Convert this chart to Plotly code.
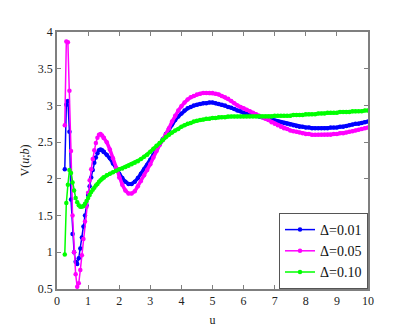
import plotly.graph_objects as go

# abscisas: paso 0.05 al principio, luego 0.1
u_early = [0.25, 0.30, 0.35, 0.40, 0.45, 0.50, 0.55, 0.60, 0.65, 0.70, 0.75, 0.80, 0.85,
           0.90, 0.95, 1.00, 1.05, 1.10, 1.15, 1.20, 1.25, 1.30, 1.35, 1.40, 1.45, 1.50]
u_late = [1.6, 1.7, 1.8, 1.9, 2.0, 2.1, 2.2, 2.3, 2.4, 2.5, 2.6, 2.7, 2.8, 2.9, 3.0,
          3.1, 3.2, 3.3, 3.4, 3.5, 3.6, 3.7, 3.8, 3.9, 4.0, 4.1, 4.2, 4.3, 4.4, 4.5,
          4.6, 4.7, 4.8, 4.9, 5.0, 5.1, 5.2, 5.3, 5.4, 5.5, 5.6, 5.7, 5.8, 5.9, 6.0,
          6.1, 6.2, 6.3, 6.4, 6.5, 6.6, 6.7, 6.8, 6.9, 7.0, 7.1, 7.2, 7.3, 7.4, 7.5,
          7.6, 7.7, 7.8, 7.9, 8.0, 8.1, 8.2, 8.3, 8.4, 8.5, 8.6, 8.7, 8.8, 8.9, 9.0,
          9.1, 9.2, 9.3, 9.4, 9.5, 9.6, 9.7, 9.8, 9.9, 10.0]
u = u_early + u_late

# Delta = 0.01
v_001 = [2.13, 3.01, 3.06, 2.64, 1.72, 1.25, 1.00, 0.87, 0.84, 0.92, 1.05, 1.20, 1.35,
         1.50, 1.64, 1.78, 1.90, 2.02, 2.12, 2.22, 2.29, 2.35, 2.39, 2.40, 2.39, 2.37,
         2.33, 2.28, 2.21, 2.14, 2.07, 2.01, 1.96, 1.93, 1.93, 1.96, 2.01, 2.07, 2.13, 2.19, 2.26,
         2.33, 2.40, 2.47, 2.54, 2.61, 2.68, 2.74, 2.80, 2.85, 2.89, 2.93, 2.96, 2.98, 3.00, 3.01,
         3.02, 3.03, 3.03, 3.04, 3.04, 3.03, 3.02, 3.01, 3.00, 2.98, 2.97, 2.95, 2.93, 2.92, 2.90,
         2.89, 2.88, 2.87, 2.86, 2.85, 2.84, 2.83, 2.81, 2.80, 2.79, 2.78, 2.77, 2.76, 2.75, 2.74,
         2.73, 2.72, 2.71, 2.71, 2.70, 2.70, 2.69, 2.69, 2.69, 2.69, 2.69, 2.69, 2.70, 2.70, 2.70,
         2.71, 2.71, 2.72, 2.73, 2.74, 2.75, 2.75, 2.76, 2.77, 2.78]

# Delta = 0.05
v_005 = [2.73, 3.87, 3.86, 3.20, 2.38, 1.50, 1.00, 0.70, 0.53, 0.58, 0.76, 0.96, 1.18,
         1.42, 1.62, 1.81, 1.98, 2.13, 2.27, 2.39, 2.49, 2.56, 2.60, 2.61, 2.59, 2.56,
         2.50, 2.40, 2.28, 2.15, 2.02, 1.92, 1.84, 1.80, 1.80, 1.83, 1.90, 1.97, 2.05, 2.12, 2.20,
         2.29, 2.38, 2.46, 2.53, 2.60, 2.69, 2.78, 2.86, 2.93, 2.99, 3.04, 3.08, 3.11, 3.13, 3.15,
         3.16, 3.17, 3.17, 3.17, 3.17, 3.16, 3.15, 3.13, 3.11, 3.09, 3.06, 3.03, 3.00, 2.98, 2.96,
         2.94, 2.92, 2.90, 2.88, 2.86, 2.84, 2.82, 2.80, 2.77, 2.75, 2.73, 2.71, 2.69, 2.68, 2.66,
         2.65, 2.64, 2.63, 2.62, 2.61, 2.61, 2.60, 2.60, 2.60, 2.60, 2.60, 2.60, 2.60, 2.61, 2.61,
         2.62, 2.62, 2.63, 2.64, 2.65, 2.66, 2.67, 2.68, 2.69, 2.70]

# Delta = 0.10
v_010 = [0.97, 1.67, 1.92, 2.12, 2.08, 1.95, 1.84, 1.74, 1.68, 1.64, 1.62, 1.62, 1.63,
         1.66, 1.70, 1.74, 1.78, 1.82, 1.85, 1.88, 1.91, 1.93, 1.96, 1.98, 2.00, 2.02,
         2.05, 2.07, 2.09, 2.11, 2.13, 2.14, 2.16, 2.18, 2.20, 2.22, 2.24, 2.27, 2.30, 2.33, 2.37,
         2.41, 2.45, 2.49, 2.53, 2.57, 2.60, 2.63, 2.66, 2.68, 2.71, 2.73, 2.75, 2.76, 2.78, 2.79,
         2.80, 2.81, 2.82, 2.82, 2.83, 2.83, 2.84, 2.84, 2.84, 2.85, 2.85, 2.85, 2.85, 2.85, 2.85,
         2.85, 2.85, 2.85, 2.85, 2.85, 2.85, 2.85, 2.85, 2.85, 2.86, 2.86, 2.86, 2.86, 2.86, 2.86,
         2.87, 2.87, 2.87, 2.87, 2.88, 2.88, 2.88, 2.88, 2.89, 2.89, 2.89, 2.90, 2.90, 2.90, 2.90,
         2.91, 2.91, 2.91, 2.91, 2.92, 2.92, 2.92, 2.92, 2.93, 2.93]

series = [
    ("Δ=0.01", v_001, "#0000FF"),
    ("Δ=0.05", v_005, "#FF00FF"),
    ("Δ=0.10", v_010, "#00FF00"),
]

FONT = "Liberation Serif"
n0 = len(u_early)

fig = go.Figure()
for name, vals, color in series:
    # tramo inicial: muestras separadas, linea fina con puntos
    fig.add_trace(go.Scatter(
        x=u[:n0], y=vals[:n0], name=name, legendgroup=name, mode="lines+markers",
        line=dict(color=color, width=1.5),
        marker=dict(color=color, size=4.5),
    ))
    # resto: muestras densas, se ve como linea gruesa
    fig.add_trace(go.Scatter(
        x=u[n0 - 1:], y=vals[n0 - 1:], legendgroup=name, showlegend=False,
        mode="lines+markers",
        line=dict(color=color, width=3.5),
        marker=dict(color=color, size=4.5),
    ))

axis_style = dict(
    showline=True, linecolor="#7f7f7f", linewidth=1.5, mirror="ticks",
    ticks="inside", ticklen=4, tickcolor="#7f7f7f",
    showgrid=False, zeroline=False,
    tickfont=dict(family=FONT, size=12, color="#222"),
)

fig.update_layout(
    width=409, height=329,
    margin=dict(l=49, r=49, t=24, b=36),
    plot_bgcolor="white", paper_bgcolor="white",
    font=dict(family=FONT, size=12, color="#222"),
    showlegend=True,
    legend=dict(
        x=1, y=0, xanchor="right", yanchor="bottom",
        bgcolor="white", bordercolor="#555", borderwidth=1,
        font=dict(family=FONT, size=14, color="#111"),
        itemwidth=30, tracegroupgap=0,
    ),
    xaxis=dict(range=[0, 10], dtick=1, tick0=0,
               title=dict(text="u", standoff=8, font=dict(family=FONT, size=12)),
               **axis_style),
    yaxis=dict(range=[0.5, 4], dtick=0.5, tick0=0.5,
               title=dict(text="V(<i>u</i>;<i>b</i>)", standoff=6, font=dict(family=FONT, size=12)),
               **axis_style),
)

fig.write_html("out.html")
